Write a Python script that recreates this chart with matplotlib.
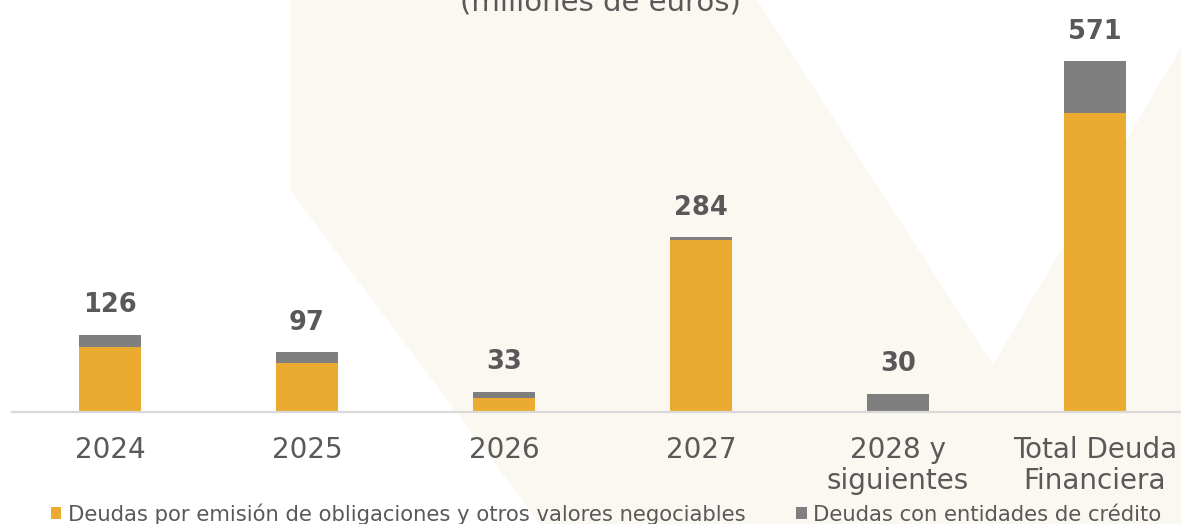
import matplotlib.pyplot as plt
import numpy as np
from matplotlib.patches import Polygon

# datos (millones de euros)
categorias = ['2024', '2025', '2026', '2027', '2028 y\nsiguientes', 'Total Deuda\nFinanciera']
obligaciones = np.array([106, 79, 22, 279, 0, 486])
entidades_credito = np.array([20, 18, 11, 5, 30, 85])
totales = [126, 97, 33, 284, 30, 571]

naranja = '#EBAB30'
gris = '#7F7F7F'
texto = '#595959'

fig = plt.figure(figsize=(11.81, 5.24), dpi=100)

# fondo decorativo
bg = fig.add_axes([0, 0, 1, 1], zorder=-1)
bg.set_xlim(0, 1181)
bg.set_ylim(524, 0)
bg.axis('off')
forma = [(290, 0), (757, 0), (993, 365), (1181, 48), (1181, 524), (540, 524), (290, 190)]
bg.add_patch(Polygon(forma, closed=True, facecolor='#FBF8F1', edgecolor='none'))

ax = fig.add_axes([11.5 / 1181, 112 / 524, 1182 / 1181, 412 / 524])
ax.set_facecolor('none')
x = np.arange(len(categorias))
b1 = ax.bar(x, obligaciones, width=0.315, color=naranja, zorder=2)
b2 = ax.bar(x, entidades_credito, width=0.315, bottom=obligaciones, color=gris, zorder=2)
ax.set_xlim(-0.5, len(categorias) - 0.5)
ax.set_ylim(0, 670)

for i, t in enumerate(totales):
    ax.annotate(str(t), (x[i], t), xytext=(0, 16), textcoords='offset points',
                ha='center', va='baseline', fontsize=18.5, fontweight='bold', color=texto)

for s in ['top', 'right', 'left']:
    ax.spines[s].set_visible(False)
ax.spines['bottom'].set_color('#D9D9D9')
ax.spines['bottom'].set_linewidth(1.6)
ax.set_yticks([])
ax.set_xticks(x)
ax.set_xticklabels(categorias, fontsize=20, color=texto, linespacing=1.15)
ax.tick_params(axis='x', length=0, pad=17)

fig.text(600 / 1181, 1 - 11 / 524, '(millones de euros)', ha='center', va='baseline',
         fontsize=21, color=texto)

fig.legend([b1, b2], ['Deudas por emisión de obligaciones y otros valores negociables',
                      'Deudas con entidades de crédito'],
           loc='center', bbox_to_anchor=(606 / 1181, 10 / 524), ncol=2, frameon=False,
           fontsize=15.2, labelcolor=texto, handlelength=0.5, handleheight=0.5,
           handletextpad=0.3, columnspacing=2.4, borderpad=0, borderaxespad=0)

plt.savefig('out.png', dpi=100)
